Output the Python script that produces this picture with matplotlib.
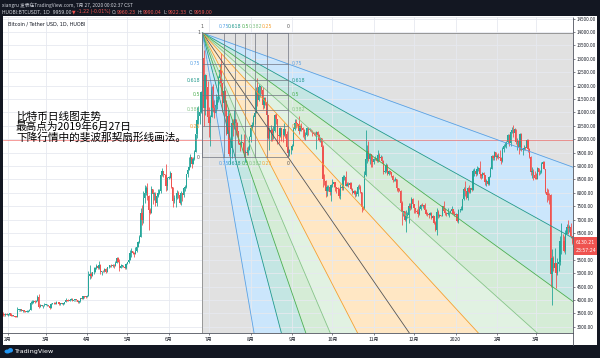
import numpy as np
import matplotlib
matplotlib.use('Agg')
import matplotlib.pyplot as plt
from matplotlib.patches import Rectangle, Polygon, Ellipse

plt.rcParams['font.family'] = ['Noto Sans CJK SC', 'DejaVu Sans']

# ---------------- data ----------------
start_date = '2019-01-28'
first_open = 3530
closes = [
    3440, 3430, 3490, 3440,
    3460, 3500, 3410, 3400, 3410, 3370, 3360, 3620, 3620, 3660, 3590, 3600, 3580, 3560, 3570, 3600, 3640, 3880, 3900, 3960, 3920, 3970, 4120, 3730, 3810, 3790, 3800, 3820,
    3820, 3820, 3780, 3710, 3860, 3870, 3880, 3860, 3930, 3910, 3850, 3870, 3860, 3860, 3910, 4010, 3980, 3970, 4010, 4040, 3980, 3990, 4000, 3990, 3920, 3950, 4070, 4050, 4140, 4130, 4120,
    4150, 4900, 4970, 4900, 5030, 5060, 5200, 5280, 5180, 5320, 5040, 5080, 5070, 5160, 5040, 5220, 5250, 5290, 5270, 5310, 5280, 5390, 5550, 5430, 5200, 5260, 5260, 5250, 5190, 5340,
    5400, 5500, 5770, 5830, 5770, 5720, 5830, 5980, 6170, 6350, 7240, 6970, 7800, 7980, 8190, 7880, 7350, 7260, 8150, 7950, 7950, 7620, 7880, 7990, 8050, 8670, 8800, 8720, 8660, 8270, 8550,
    8560, 8740, 8210, 7690, 7790, 7800, 8000, 7930, 7630, 8010, 7920, 8170, 8230, 8690, 8850, 8980, 9320, 9080, 9270, 9530, 10180, 10700, 10860, 11000, 11750, 13016, 11182, 12407, 11959, 10817,
    10590, 10830, 11950, 11150, 10980, 11260, 11470, 12300, 12570, 12110, 11350, 11810, 11380, 10200, 10850, 9450, 9690, 10620, 10530, 10740, 10590, 10320, 9850, 9770, 9880, 9840, 9480, 9530, 9500, 9590, 10090,
    10400, 10530, 10820, 10980, 11800, 11480, 11950, 11960, 11850, 11280, 11530, 11380, 10900, 10050, 10300, 10360, 10220, 10320, 10920, 10760, 10140, 10130, 10410, 10150, 10140, 10370, 10190, 9720, 9490, 9580, 9600,
    9760, 10390, 10620, 10600, 10580, 10320, 10490, 10410, 10340, 10120, 10160, 10410, 10360, 10360, 10310, 10260, 10190, 10160, 10280, 10170, 9980, 10030, 9700, 8530, 8430, 8060, 8200, 8200, 8040, 8300,
    8330, 8390, 8230, 8160, 8150, 7870, 8210, 8180, 8590, 8590, 8260, 8320, 8300, 8370, 8160, 8000, 8080, 7950, 7960, 8230, 8200, 8020, 7470, 7410, 8660, 9250, 9550, 9250, 9430, 9180, 9150,
    9250, 9300, 9200, 9400, 9310, 9340, 9200, 8770, 8810, 9040, 8720, 8800, 8760, 8630, 8460, 8490, 8500, 8170, 8120, 8080, 7620, 7280, 7320, 6980, 7150, 7170, 7520, 7430, 7760, 7570,
    7420, 7320, 7300, 7200, 7400, 7540, 7510, 7530, 7340, 7220, 7200, 7190, 7250, 7070, 7120, 6880, 6620, 7290, 7150, 7190, 7140, 7510, 7320, 7260, 7200, 7200, 7250, 7320, 7390, 7220, 7190,
    7200, 6960, 7340, 7350, 7360, 7760, 8150, 8050, 7820, 8190, 8020, 8180, 8110, 8810, 8820, 8720, 8900, 8910, 8700, 8630, 8730, 8660, 8390, 8440, 8340, 8600, 8900, 9380, 9300, 9510, 9350,
    9390, 9340, 9290, 9180, 9620, 9750, 9800, 9900, 10170, 9850, 10270, 10360, 10240, 10370, 9900, 9930, 9700, 10180, 9600, 9610, 9690, 9670, 9970, 9650, 9320, 8790, 8790, 8670, 8540,
    8530, 8920, 8760, 8760, 9080, 9150, 8900, 8040, 7930, 7910, 7900, 4970, 5560, 5200, 5390, 5010, 5330, 5420, 6190, 6210, 6190, 5830, 6470, 6740, 6680, 6730, 6370, 6130,
]
highs = [
    3540, 3450, 3510, 3500,
    3480, 3510, 3500, 3430, 3430, 3420, 3390, 3730, 3640, 3670, 3670, 3630, 3620, 3600, 3610, 3630, 3680, 3950, 4000, 3990, 4000, 3990, 4180, 4210, 3850, 3820, 3830, 3900,
    3860, 3840, 3830, 3790, 3880, 3900, 3910, 3930, 3960, 3940, 3930, 3880, 3890, 3900, 3930, 4080, 4010, 4030, 4030, 4060, 4070, 4010, 4010, 4010, 4000, 3960, 4080, 4080, 4150, 4160, 4140,
    4170, 5080, 5300, 5040, 5060, 5240, 5250, 5350, 5280, 5470, 5340, 5100, 5120, 5180, 5200, 5240, 5300, 5320, 5350, 5340, 5330, 5470, 5620, 5620, 5530, 5350, 5300, 5300, 5260, 5370,
    5430, 5540, 5880, 5930, 5830, 5780, 5970, 6000, 6190, 6430, 7440, 7550, 8050, 8300, 8270, 8370, 7900, 7450, 8250, 8130, 8040, 8030, 7950, 8130, 8130, 8710, 8940, 8810, 8720, 9080, 8590,
    8630, 8800, 8750, 8210, 7910, 7860, 8100, 8060, 7960, 8070, 8010, 8230, 8300, 8710, 8880, 9340, 9460, 9330, 9320, 9590, 10200, 11200, 11250, 11100, 11800, 13970, 13311, 12450, 12400, 12180,
    11200, 10900, 12000, 12050, 11450, 11700, 11600, 12350, 12800, 13200, 12100, 11930, 11830, 11450, 11080, 10990, 9980, 10750, 10740, 11080, 10740, 10650, 10320, 9900, 10180, 9900, 10200, 9600, 9720, 9730, 10120,
    10470, 10660, 10900, 11080, 11950, 12280, 12060, 12000, 11990, 11950, 11560, 11560, 11470, 10910, 10460, 10520, 10400, 10500, 10950, 10960, 10760, 10240, 10450, 10410, 10330, 10620, 10390, 10290, 9730, 9650, 9690,
    9820, 10440, 10770, 10770, 10620, 10880, 10540, 10610, 10460, 10380, 10280, 10450, 10440, 10420, 10370, 10360, 10260, 10270, 10320, 10300, 10190, 10070, 10060, 9800, 8720, 8480, 8280, 8300, 8220, 8330,
    8500, 8400, 8410, 8230, 8200, 8170, 8310, 8320, 8670, 8650, 8800, 8400, 8420, 8410, 8400, 8170, 8120, 8110, 8080, 8290, 8310, 8300, 8030, 7500, 8800, 10350, 9800, 9920, 9500, 9450, 9400,
    9290, 9390, 9350, 9590, 9480, 9420, 9380, 9230, 8880, 9130, 9080, 8850, 8830, 8780, 8670, 8520, 8600, 8510, 8190, 8170, 8110, 7710, 7330, 7330, 7340, 7300, 7630, 7610, 7850, 7820,
    7560, 7430, 7400, 7750, 7500, 7580, 7620, 7560, 7630, 7390, 7270, 7230, 7300, 7270, 7180, 7140, 6940, 7430, 7370, 7220, 7190, 7520, 7690, 7440, 7280, 7440, 7270, 7360, 7520, 7410, 7320,
    7250, 7220, 7400, 7400, 7500, 7780, 8200, 8450, 8050, 8200, 8280, 8190, 8200, 8870, 8910, 8850, 9000, 8980, 9190, 8720, 8760, 8790, 8670, 8520, 8440, 8620, 8970, 9400, 9420, 9560, 9530,
    9440, 9480, 9590, 9340, 9720, 9830, 9880, 9940, 10180, 10180, 10300, 10460, 10520, 10400, 10380, 10060, 9970, 10230, 10240, 9680, 9780, 9710, 9990, 10000, 9660, 9380, 8960, 8890, 8800,
    8740, 8950, 8920, 8850, 9150, 9170, 9200, 8900, 8180, 8150, 7980, 7960, 5900, 5650, 5930, 5380, 5560, 5440, 6400, 6880, 6450, 6400, 6600, 6850, 6980, 6790, 6880, 6380,
]
lows = [
    3400, 3390, 3420, 3430,
    3420, 3450, 3400, 3390, 3390, 3350, 3350, 3350, 3600, 3590, 3580, 3560, 3560, 3540, 3550, 3570, 3590, 3630, 3860, 3890, 3890, 3910, 3950, 3710, 3730, 3770, 3690, 3790,
    3810, 3790, 3760, 3680, 3700, 3840, 3850, 3840, 3860, 3880, 3830, 3820, 3840, 3820, 3850, 3910, 3960, 3950, 3960, 3990, 3950, 3970, 3980, 3970, 3880, 3900, 3940, 4030, 4040, 4090, 4090,
    4100, 4150, 4800, 4820, 4900, 4960, 5040, 5160, 5140, 5170, 4970, 4930, 5040, 5030, 4990, 5030, 5200, 5240, 5220, 5250, 5200, 5260, 5380, 5400, 5100, 5180, 5220, 5220, 5160, 5170,
    5330, 5380, 5490, 5610, 5710, 5600, 5720, 5800, 5970, 6140, 6340, 6800, 6880, 7620, 7900, 7730, 6600, 7220, 7250, 7570, 7750, 7520, 7500, 7830, 7950, 8000, 8620, 8600, 8430, 8050, 8110,
    8500, 8550, 8190, 7480, 7610, 7460, 7780, 7820, 7580, 7550, 7710, 7850, 8070, 8180, 8600, 8870, 8990, 8940, 9060, 9220, 9530, 10060, 10580, 10580, 10990, 11750, 10491, 10910, 11500, 10800,
    10090, 9740, 10810, 11030, 10780, 10990, 11120, 11370, 12090, 11600, 11030, 11090, 10880, 10140, 9870, 9370, 9070, 9300, 10120, 10390, 10170, 10100, 9820, 9560, 9740, 9650, 9340, 9160, 9400, 9420, 9580,
    9880, 10360, 10510, 10580, 10970, 11250, 11440, 11570, 11670, 11120, 11180, 11280, 10820, 9990, 9580, 9920, 9950, 10000, 10260, 10580, 9830, 9850, 10070, 9940, 9900, 10130, 10050, 9630, 9320, 9370, 9450,
    9580, 9750, 10360, 10430, 10480, 10200, 10310, 10310, 10070, 9990, 9980, 10110, 10160, 10300, 10270, 10120, 10150, 10120, 9620, 10110, 9920, 9900, 9630, 8210, 8280, 7830, 7880, 8070, 7900, 7710,
    8210, 8200, 8080, 7980, 8030, 7810, 7780, 8110, 8120, 8460, 8250, 8250, 8230, 8270, 8100, 7960, 7960, 7860, 7880, 7880, 8160, 8000, 7300, 7360, 7400, 8620, 9120, 9200, 9090, 8960, 8970,
    9080, 9230, 9150, 9140, 9200, 9290, 9130, 8700, 8740, 8780, 8680, 8660, 8720, 8580, 8410, 8430, 8440, 8050, 8030, 8050, 7520, 6790, 7120, 6950, 6520, 7060, 6880, 7370, 7410, 7500,
    7250, 7260, 7270, 7110, 7190, 7360, 7490, 7440, 7300, 7170, 7150, 7070, 7180, 7030, 7040, 6840, 6560, 6440, 7050, 7110, 7120, 7130, 7270, 7180, 7140, 7160, 7090, 7240, 7300, 7200, 7150,
    7170, 6920, 6880, 7280, 7350, 7350, 7730, 7880, 7760, 7740, 8000, 7980, 8060, 8100, 8630, 8610, 8680, 8800, 8540, 8520, 8560, 8620, 8300, 8250, 8280, 8300, 8580, 8880, 9240, 9210, 9220,
    9310, 9260, 9220, 9080, 9160, 9530, 9720, 9690, 9870, 9750, 9730, 10250, 10080, 10130, 9830, 9590, 9450, 9610, 9550, 9400, 9580, 9590, 9660, 9510, 9280, 8650, 8560, 8460, 8520,
    8500, 8520, 8660, 8690, 8750, 9020, 8880, 8000, 7650, 7750, 7590, 4500, 3800, 5070, 5150, 4450, 4950, 5080, 5300, 5710, 5900, 5800, 5700, 6450, 6480, 6540, 6300, 6100,
]

month_dates = ['2019-02-01', '2019-03-01', '2019-04-01', '2019-05-01', '2019-06-01', '2019-07-01',
               '2019-08-01', '2019-09-01', '2019-10-01', '2019-11-01', '2019-12-01', '2020-01-01',
               '2020-02-01', '2020-03-01']
month_labels = ['2月', '3月', '4月', '5月', '6月', '7月', '8月', '9月', '10月', '11月', '12月', '2020', '2月', '3月']
price_ticks = list(range(3000, 14501, 500))
hidden_price_ticks = [6000]   # covered by the last-price label

fan_start_date, fan_start_price = '2019-06-26', 13970
fan_end_date, fan_end_price = '2019-08-29', 9330
fan_levels = [1, 0.75, 0.618, 0.5, 0.382, 0.25, 0]
fan_level_text = ['1', '0.75', '0.618', '0.5', '0.382', '0.25', '0']
fan_line_colors = ['#8a8a8a', '#5aa2e6', '#21998c', '#4caf50', '#86c489', '#f5a030', '#555555']
fan_fill_colors = ['#808080', '#2196f3', '#009688', '#4caf50', '#81c784', '#ff9800']

price_line = 9959.00
last_price_text = '6130.21'
countdown_text = '23:57:24'

# ---------------- helpers ----------------
W, H = 600.0, 358.0
PX_PER_DAY = 1.34
BASE = np.datetime64('2019-01-01')


def dnum(s):
    return int((np.datetime64(s) - BASE).astype(int))


def fx(x):
    return x / W


def fy(y):
    return 1 - y / H


UP, DOWN = '#26a69a', '#ef5350'
TXT = '#131722'

fig = plt.figure(figsize=(6, 3.58), dpi=100)
fig.patch.set_facecolor('#131722')
fig.patches.append(Rectangle((fx(3), fy(345)), (597 - 3) / W, (345 - 16) / H,
                             transform=fig.transFigure, facecolor='white',
                             edgecolor='none', zorder=-10))

ax = fig.add_axes([fx(3), fy(333), (573 - 3) / W, (333 - 17) / H])
ax.set_facecolor('white')
d_feb = dnum('2019-02-01')
ax.set_xlim(d_feb - 5 / PX_PER_DAY, d_feb + 565 / PX_PER_DAY)
ax.set_ylim(14000 - 301 / 0.0268, 14000 + 15 / 0.0268)

# grid
ax.set_axisbelow(True)
mdays = [dnum(s) for s in month_dates]
ax.set_xticks(mdays)
ax.set_xticklabels(month_labels)
ax.set_yticks(price_ticks)
ax.set_yticklabels(['' if p in hidden_price_ticks else '%.2f' % p for p in price_ticks])
ax.grid(True, color='#e6e9f0', lw=0.6, zorder=0.5)
ax.yaxis.tick_right()
ax.tick_params(axis='y', which='both', length=1.6, width=0.5, pad=1.2,
               labelsize=3.3, colors='#50535e', labelcolor=TXT)
ax.tick_params(axis='x', which='both', length=1.6, width=0.5, pad=1.5,
               labelsize=3.5, colors='#50535e', labelcolor=TXT)
ax.spines['left'].set_visible(False)
ax.spines['top'].set_color('#e0e3eb')
ax.spines['top'].set_linewidth(0.5)
ax.spines['right'].set_color('#50535e')
ax.spines['right'].set_linewidth(0.6)
ax.spines['bottom'].set_color('#50535e')
ax.spines['bottom'].set_linewidth(0.6)

# ---------------- Fibonacci fan ----------------
X0, P1 = dnum(fan_start_date), fan_start_price
X1, P0 = dnum(fan_end_date), fan_end_price
dx, dp = X1 - X0, P0 - P1

rays = []        # (direction, color)
for L, c in zip(fan_levels, fan_line_colors):
    rays.append(((dx, (1 - L) * dp), c))
for L, c in list(zip(fan_levels, fan_line_colors))[-2::-1]:
    rays.append((((1 - L) * dx, dp), c))
sector_cols = fan_fill_colors + fan_fill_colors[::-1]
K = 40.0
for i in range(len(rays) - 1):
    (ax1, ay1), _ = rays[i]
    (ax2, ay2), _ = rays[i + 1]
    poly = Polygon([(X0, P1), (X0 + K * ax1, P1 + K * ay1), (X0 + K * ax2, P1 + K * ay2)],
                   closed=True, facecolor=sector_cols[i], alpha=0.23, edgecolor='none',
                   zorder=0.3)
    ax.add_patch(poly)
for (vx, vy), c in rays:
    ax.plot([X0, X0 + K * vx], [P1, P1 + K * vy], color=c, lw=0.6, zorder=3,
            solid_capstyle='butt')

# box grid
for L in fan_levels:
    xl = X0 + (1 - L) * dx
    pl = P0 + L * (P1 - P0)
    ax.plot([xl, xl], [P0, P1], color='#6f7380', lw=0.5, zorder=3)
    ax.plot([X0, X1], [pl, pl], color='#6f7380', lw=0.5, zorder=3)

lab_fs = 3.4
for L, t, c in zip(fan_levels, fan_level_text, fan_line_colors):
    col = c if L not in (1, 0) else '#555555'
    xl = X0 + (1 - L) * dx
    pl = P0 + L * (P1 - P0)
    ax.annotate(t, (xl, P1), xytext=(0, 4.3), textcoords='offset points',
                ha='center', va='center', fontsize=lab_fs, color=col, zorder=4,
                family='DejaVu Sans')
    ax.annotate(t, (X0, pl), xytext=(-1.5, 0), textcoords='offset points',
                ha='right', va='center', fontsize=lab_fs, color=col, zorder=4,
                family='DejaVu Sans')
    if L != 1:
        ax.annotate(t, (xl, P0), xytext=(0, -4.3), textcoords='offset points',
                    ha='center', va='center', fontsize=lab_fs, color=col, zorder=4,
                    family='DejaVu Sans')
    if L not in (1, 0):
        ax.annotate(t, (X1, pl), xytext=(2.5, 0), textcoords='offset points',
                    ha='left', va='center', fontsize=lab_fs, color=col, zorder=4,
                    family='DejaVu Sans')

# price line
ax.axhline(price_line, color='#ef5350', lw=0.5, alpha=0.8, zorder=2.5)

# ---------------- candles ----------------
n = len(closes)
days = dnum(start_date) + np.arange(n)
c = np.array(closes, float)
o = np.concatenate([[first_open], c[:-1]])
h = np.maximum(np.array(highs, float), np.maximum(o, c))
l = np.minimum(np.array(lows, float), np.minimum(o, c))
cols = np.where(c >= o, UP, DOWN)
ax.vlines(days, l, h, colors=cols, lw=0.6, zorder=2)
body_b = np.minimum(o, c)
body_h = np.maximum(np.abs(c - o), 30)
ax.bar(days, body_h, bottom=body_b, width=0.95, color=cols, linewidth=0, zorder=2.2)

# ---------------- overlay texts ----------------
ov = fig.add_axes([0, 0, 1, 1])
ov.set_xlim(0, W)
ov.set_ylim(H, 0)
ov.axis('off')
ov.patch.set_alpha(0)

ov.text(2, 5, 'xiangru 发表在TradingView.com, 7月 27, 2020 00:02:37 CST', fontsize=3.45,
        color='#d1d4dc', va='center', ha='left')
hdr_fs = 3.3
parts = [('HUOBI:BTCUSDT, 1D  9959.00', '#d1d4dc'), ('▼', '#ef5350'),
         ('-1.22 (-0.01%)', '#ef5350'), ('O:', '#d1d4dc'), ('9960.23', '#ef5350'),
         ('H:', '#d1d4dc'), ('9990.04', '#ef5350'), ('L:', '#d1d4dc'),
         ('9922.33', '#ef5350'), ('C:', '#d1d4dc'), ('9959.00', '#ef5350')]
gaps = [0, 0.6, 0.6, 1.2, 0.2, 1.2, 0.2, 1.2, 0.2, 1.2, 0.2]
prev = ov.text(2, 12, parts[0][0], fontsize=hdr_fs, color=parts[0][1], va='center',
               ha='left', family='DejaVu Sans')
for (s, colr), g in zip(parts[1:], gaps[1:]):
    prev = ov.annotate(s, xy=(1, 0.5), xycoords=prev, xytext=(g, 0),
                       textcoords='offset points', fontsize=hdr_fs, color=colr,
                       va='center', ha='left', family='DejaVu Sans')

ov.text(8, 24, 'Bitcoin / Tether USD, 1D, HUOBI', fontsize=3.5, color=TXT,
        va='center', ha='left', family='DejaVu Sans')

# Chinese annotation
for yy, s in [(116.5, '比特币日线图走势'), (127.2, '最高点为2019年6月27日'),
              (137.8, '下降行情中的斐波那契扇形线画法。')]:
    ov.text(16, yy, s, fontsize=7.7, color='#000000', va='center', ha='left')

# price axis extension line and last price label
ov.plot([573, 573], [333, 345], color='#50535e', lw=0.6)
ov.add_patch(Rectangle((573.5, 237), 23.5, 18, facecolor='#ef5350', edgecolor='none'))
ov.text(576, 242, last_price_text, fontsize=3.3, color='white', va='center', ha='left',
        family='DejaVu Sans')
ov.text(576, 250, countdown_text, fontsize=3.3, color='white', va='center', ha='left',
        family='DejaVu Sans')

# TradingView logo
ov.add_patch(Ellipse((7.5, 351.5), 6, 4, facecolor='#2196f3', edgecolor='none'))
ov.add_patch(Ellipse((10.5, 350.3), 5, 4.5, facecolor='#2196f3', edgecolor='none'))
ov.text(14, 351, 'TradingView', fontsize=4.6, color='white', va='center', ha='left',
        family='DejaVu Sans')

fig.savefig('out.png', dpi=100, facecolor=fig.get_facecolor())
